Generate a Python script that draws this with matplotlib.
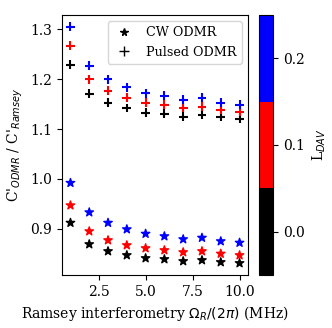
import matplotlib
matplotlib.use("Agg")
import matplotlib.pyplot as plt
from matplotlib.colors import ListedColormap, Normalize
from matplotlib.lines import Line2D

plt.rcParams["font.family"] = "serif"
plt.rcParams["font.size"] = 10

###

rabi = [1, 2, 3, 4, 5, 6, 7, 8, 9, 10]
l_dav = [0.0, 0.1, 0.2]

# Pulsed ODMR ratio, one list per L_DAV value
pulsed = [
    [1.229, 1.171, 1.153, 1.142, 1.133, 1.131, 1.125, 1.129, 1.124, 1.121],
    [1.267, 1.200, 1.177, 1.163, 1.153, 1.149, 1.142, 1.145, 1.139, 1.134],
    [1.305, 1.227, 1.200, 1.184, 1.172, 1.167, 1.159, 1.163, 1.153, 1.149],
]

# CW ODMR ratio, one list per L_DAV value
cw = [
    [0.912, 0.869, 0.855, 0.847, 0.841, 0.839, 0.835, 0.837, 0.833, 0.831],
    [0.947, 0.895, 0.877, 0.867, 0.861, 0.857, 0.853, 0.855, 0.850, 0.847],
    [0.992, 0.933, 0.912, 0.899, 0.890, 0.885, 0.879, 0.882, 0.875, 0.872],
]

colours = ["black", "red", "blue"]

###

cmap = ListedColormap(colours)
norm = Normalize(vmin=-0.05, vmax=0.25)

fig = plt.figure(figsize=(3.32, 3.28), dpi=100)
ax = fig.add_axes([62/332, 53/328, 186/332, 260/328])
cax = fig.add_axes([259/332, 53/328, 14/332, 260/328])

for l, p, c in zip(l_dav, pulsed, cw):
    sc = ax.scatter(rabi, c, c=[l]*len(rabi), cmap=cmap, norm=norm, marker="*", s=40)
    ax.scatter(rabi, p, c=[l]*len(rabi), cmap=cmap, norm=norm, marker="+", s=40)

ax.set_xlabel(r"Ramsey interferometry $\Omega_R/(2\pi)$ (MHz)")
ax.set_ylabel(r"C'$_{ODMR}$ / C'$_{Ramsey}$")
ax.set_xticks([2.5, 5.0, 7.5, 10.0])
ax.set_yticks([0.9, 1.0, 1.1, 1.2, 1.3])

  # Legend shows black markers only, colour is on the colourbar
handles = [
    Line2D([], [], color="black", marker="*", linestyle="none", markersize=5.5),
    Line2D([], [], color="black", marker="+", linestyle="none", markersize=6.5),
]
ax.legend(handles, ["CW ODMR", "Pulsed ODMR"], loc="upper right", fontsize=9.2,
          borderaxespad=0.5, handlelength=1.8)

cb = fig.colorbar(sc, cax=cax)
cb.set_ticks([0.0, 0.1, 0.2])
cb.set_label(r"L$_{DAV}$")

fig.savefig("out.png", dpi=100)
